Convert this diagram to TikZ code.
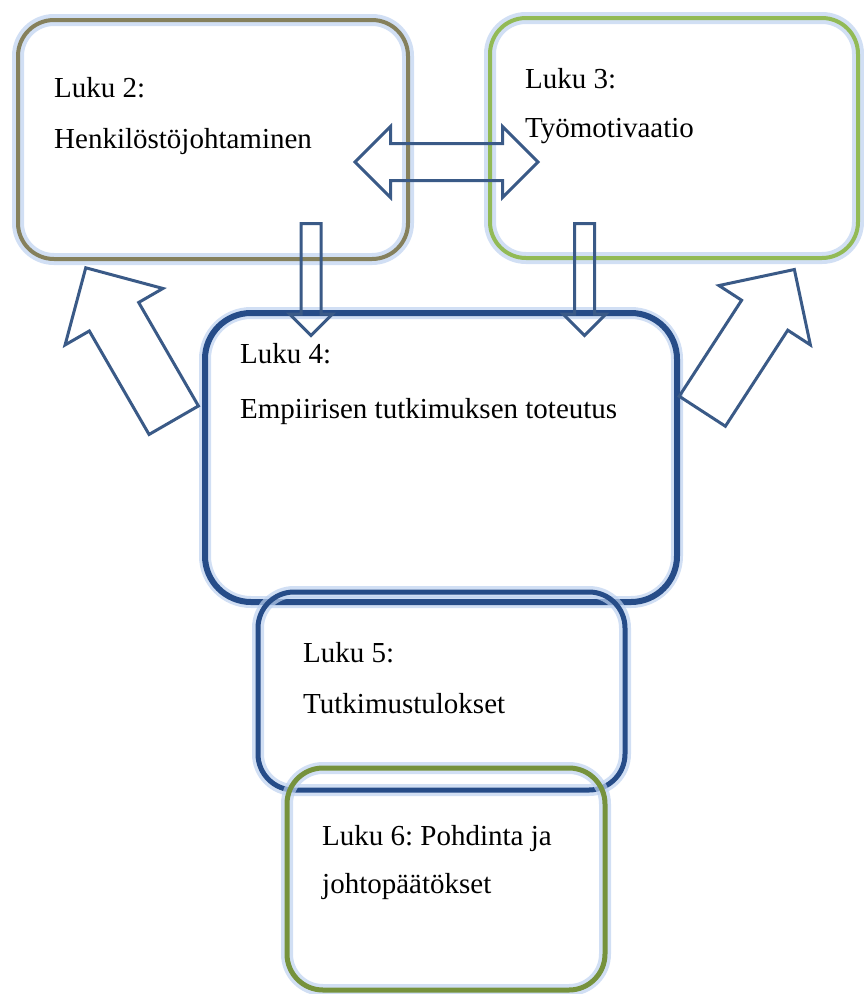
\documentclass[tikz,border=0pt]{standalone}
\usepackage{fontspec}
\setmainfont{Liberation Serif}
\usepackage{tikz}
\usetikzlibrary{calc, positioning, shapes.arrows}
\definecolor{olivebox}{RGB}{133,128,92}
\definecolor{greenbox}{RGB}{146,186,86}
\definecolor{darkgreenbox}{RGB}{118,146,60}
\definecolor{bluebox}{RGB}{38,76,136}
\definecolor{glowblue}{RGB}{190,210,240}
\definecolor{arrowblue}{RGB}{58,90,135}
\frenchspacing
\tikzset{
    chapter/.style={rectangle, draw=#1, line width=4pt, rounded corners=36pt, preaction={draw=glowblue, line width=12pt, opacity=0.7}},
    chaptext/.style={anchor=base west, inner sep=0pt, font=\fontsize{29}{35}\selectfont},
    blockarrow/.style={draw=arrowblue, line width=3pt, inner xsep=0pt}
}
\begin{document}
\begin{tikzpicture}[x=1pt, y=-1pt]
        \useasboundingbox (0,0) rectangle (863,994);

        % chapter boxes
        \node[chapter=olivebox, minimum width=390pt, minimum height=239pt] (luku2) at (213,139.5) {};
        \node[chapter=greenbox, minimum width=368pt, minimum height=240pt] (luku3) at (674,138) {};
        \node[chapter=bluebox, line width=6pt, rounded corners=46pt, minimum width=472pt, minimum height=289pt] (luku4) at (441,457.5) {};
        \node[chapter=bluebox, line width=5pt, minimum width=367pt, minimum height=198pt] (luku5) at (441.5,691) {};
        \node[chapter=darkgreenbox, line width=5pt, minimum width=318pt, minimum height=222pt] (luku6) at (446,879) {};

        \node[chaptext] (t2) at (54,97) {Luku 2:};
        \node[chaptext] (t2b) at ([yshift=-51pt]t2.base west) {Henkilöstöjohtaminen};
        \node[chaptext] (t3) at (525,88) {Luku 3:};
        \node[chaptext] (t3b) at ([yshift=-49pt]t3.base west) {Työmotivaatio};
        \node[chaptext] (t4) at (240,363) {Luku 4:};
        \node[chaptext] (t4b) at ([yshift=-55pt]t4.base west) {Empiirisen tutkimuksen toteutus};
        \node[chaptext] (t5) at (303,662) {Luku 5:};
        \node[chaptext] (t5b) at ([yshift=-51pt]t5.base west) {Tutkimustulokset};
        \node[chaptext] (t6) at (322,845) {Luku 6: Pohdinta ja};
        \node[chaptext] (t6b) at ([yshift=-48pt]t6.base west) {johtopäätökset};

        % block arrows
        \node[blockarrow, double arrow, inner ysep=17pt, double arrow head extend=17pt, minimum width=68pt, minimum height=183pt] (link23) at (446.5,162) {};
        \node[blockarrow, single arrow, inner ysep=8.5pt, single arrow head extend=11.5pt, minimum width=40pt, minimum height=112pt, rotate=-90, anchor=tail] (down2) at (311,222) {};
        \node[blockarrow, single arrow, inner ysep=8.5pt, single arrow head extend=11.5pt, minimum width=40pt, minimum height=112pt, rotate=-90, anchor=tail] (down3) at (584.5,222) {};
        \node[blockarrow, single arrow, inner ysep=27pt, single arrow head extend=28pt, minimum width=110pt, minimum height=176pt, rotate=120, anchor=tail] (back2) at (174.5,421.5) {};
        \node[blockarrow, single arrow, inner ysep=26pt, single arrow head extend=27pt, minimum width=107pt, minimum height=169pt, rotate=57, anchor=tail] (back3) at (701.5,412.5) {};
    \end{tikzpicture}
\end{document}
